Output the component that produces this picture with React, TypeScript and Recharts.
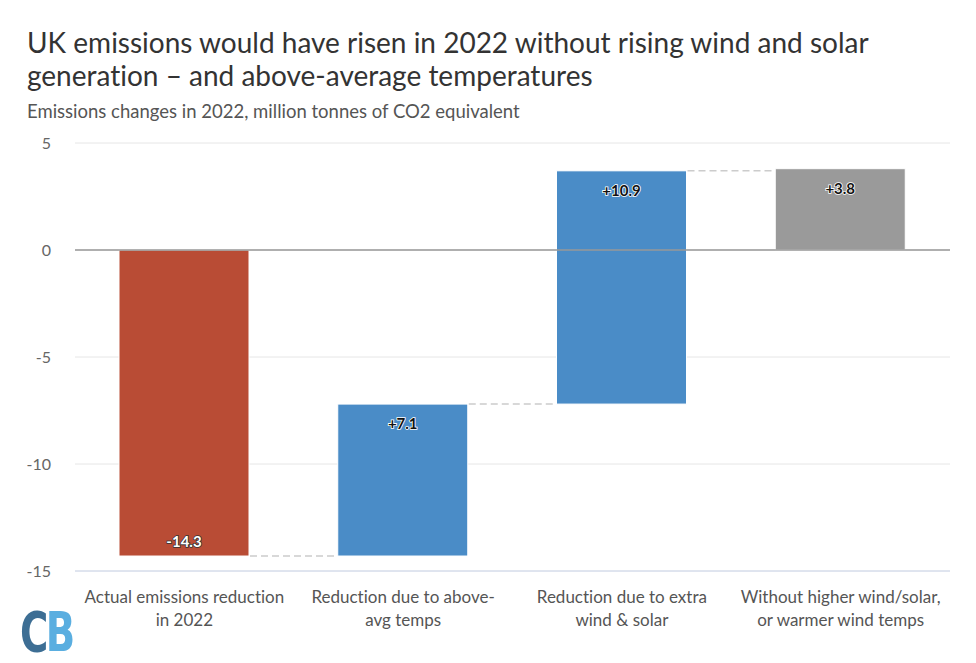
import { BarChart, Bar, XAxis, YAxis, CartesianGrid, ReferenceLine } from 'recharts'

const categories = [
  'Actual emissions reduction in 2022',
  'Reduction due to above-avg temps',
  'Reduction due to extra wind & solar',
  'Without higher wind/solar, or warmer wind temps',
]
const categoryLines = [
  ['Actual emissions reduction', 'in 2022'],
  ['Reduction due to above-', 'avg temps'],
  ['Reduction due to extra', 'wind & solar'],
  ['Without higher wind/solar,', 'or warmer wind temps'],
]
const changes = [-14.3, 7.1, 10.9, 3.8]
const isTotal = [false, false, false, true]
const barColors = ['#b94c35', '#4a8cc7', '#4a8cc7', '#9a9a9a']
const yTicks = [-15, -10, -5, 0, 5]

const FONT = 'Lato, "Open Sans", sans-serif'
const LOGO_FONT = '"Liberation Sans Narrow", "DejaVu Sans Condensed", sans-serif'
const WIDTH = 976
const HEIGHT = 663
const MARGIN = { top: 143, right: 26, bottom: 32, left: 0 }
const Y_AXIS_WIDTH = 75
const BAR_WIDTH = 130
const BAND = (WIDTH - MARGIN.left - MARGIN.right - Y_AXIS_WIDTH) / categories.length

// running totals -> [low, high] for each step, totals start from zero
let running = 0
const chartData = categories.map((name, i) => {
  const start = isTotal[i] ? 0 : running
  const end = isTotal[i] ? changes[i] : running + changes[i]
  if (!isTotal[i]) running = end
  return {
    name,
    idx: i,
    change: changes[i],
    range: [Math.min(start, end), Math.max(start, end)],
    connect: i < categories.length - 1,
  }
})

function fmt(v: number) {
  return v > 0 ? `+${v.toFixed(1)}` : v.toFixed(1)
}

function WaterfallBar(props: any) {
  const { x, y, width, height, payload } = props
  const gap = BAND - width
  const neg = payload.change < 0
  const endY = neg ? y + height : y
  const labelY = neg ? y + height - 15 : y + 19
  return (
    <g>
      <rect x={x} y={y} width={width} height={height} fill={barColors[payload.idx]} stroke="#ffffff" strokeWidth={1} />
      {payload.connect && (
        <line x1={x + width + 1} x2={x + width + gap - 1} y1={endY} y2={endY} stroke="#cccccc" strokeWidth={1.5} strokeDasharray="7 4" />
      )}
      <text
        x={x + width / 2}
        y={labelY}
        textAnchor="middle"
        dominantBaseline="central"
        fontFamily={FONT}
        fontSize={15}
        fontWeight={700}
        fill={neg ? '#ffffff' : '#111111'}
        stroke={neg ? '#333333' : '#ffffff'}
        strokeWidth={1.6}
        paintOrder="stroke"
      >
        {fmt(payload.change)}
      </text>
    </g>
  )
}

function CategoryTick(props: any) {
  const { x, y, index } = props
  const lines = categoryLines[index] || []
  return (
    <g>
      {lines.map((line, i) => (
        <text key={i} x={x} y={y + 24 + i * 23} textAnchor="middle" fontFamily={FONT} fontSize={17} fill="#555555">
          {line}
        </text>
      ))}
    </g>
  )
}

export default function App() {
  return (
    <div
      style={{
        position: 'absolute',
        left: 0,
        top: 0,
        width: WIDTH,
        height: HEIGHT,
        background: '#fff',
        fontFamily: FONT,
        fontVariantLigatures: 'none',
      }}
    >
      <div style={{ position: 'absolute', left: 27, top: 26, fontSize: 28, lineHeight: '33px', color: '#333333', whiteSpace: 'nowrap' }}>
        UK emissions would have risen in 2022 without rising wind and solar
        <br />
        generation – and above-average temperatures
      </div>
      <div style={{ position: 'absolute', left: 27, top: 100, fontSize: 18.5, color: '#555555', whiteSpace: 'nowrap' }}>
        Emissions changes in 2022, million tonnes of CO2 equivalent
      </div>
      <BarChart width={WIDTH} height={HEIGHT} data={chartData} margin={MARGIN} barSize={BAR_WIDTH}>
        <CartesianGrid vertical={false} stroke="#e6e6e6" />
        <XAxis
          dataKey="name"
          height={60}
          tick={<CategoryTick />}
          tickLine={false}
          axisLine={{ stroke: '#ccd6eb' }}
          interval={0}
        />
        <YAxis
          domain={[-15, 5]}
          ticks={yTicks}
          width={Y_AXIS_WIDTH}
          axisLine={false}
          tickLine={false}
          tickSize={0}
          tickMargin={24}
          tick={{ fontFamily: FONT, fontSize: 16, fill: '#666666' }}
        />
        <ReferenceLine y={0} stroke="#999999" strokeWidth={1.5} />
        <Bar dataKey="range" shape={<WaterfallBar />} isAnimationActive={false} />
      </BarChart>
      <svg style={{ position: 'absolute', left: 0, top: 590 }} width={100} height={73}>
        <g transform="translate(20,61) scale(0.78,1)">
          <text x={0} y={0} fontFamily={LOGO_FONT} fontWeight={700} fontSize={55} fill="#3d6e94">
            C
          </text>
          <text x={33} y={0} fontFamily={LOGO_FONT} fontWeight={700} fontSize={55} fill="#5aaee0">
            B
          </text>
        </g>
      </svg>
    </div>
  )
}
